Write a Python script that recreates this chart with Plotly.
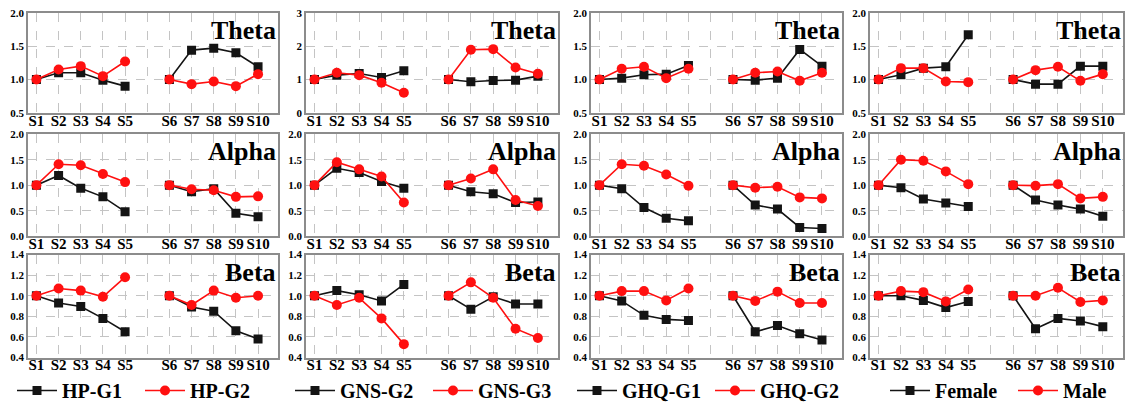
import plotly.graph_objects as go

# Session labels; a blank slot separates the two recording blocks
sessions = ["S1", "S2", "S3", "S4", "S5", "S6", "S7", "S8", "S9", "S10"]
axis_categories = ["S1", "S2", "S3", "S4", "S5", " ", "S6", "S7", "S8", "S9", "S10"]

bands = ["Theta", "Alpha", "Beta"]
group_names = [("HP-G1", "HP-G2"), ("GNS-G2", "GNS-G3"),
               ("GHQ-G1", "GHQ-G2"), ("Female", "Male")]

# Theta band, normalised power
theta_hp_g1 = [1.00, 1.10, 1.10, 0.99, 0.90, 1.00, 1.44, 1.47, 1.40, 1.19]
theta_hp_g2 = [1.00, 1.15, 1.20, 1.05, 1.27, 1.00, 0.93, 0.97, 0.90, 1.08]
theta_gns_g2 = [1.00, 1.13, 1.18, 1.06, 1.26, 1.00, 0.93, 0.97, 0.98, 1.10]
theta_gns_g3 = [1.00, 1.20, 1.13, 0.90, 0.60, 1.00, 1.89, 1.91, 1.36, 1.17]
theta_ghq_g1 = [1.00, 1.02, 1.07, 1.08, 1.21, 1.00, 0.99, 1.02, 1.45, 1.20]
theta_ghq_g2 = [1.00, 1.16, 1.19, 1.02, 1.16, 1.00, 1.10, 1.12, 0.98, 1.10]
theta_female = [1.00, 1.07, 1.17, 1.19, 1.67, 1.00, 0.93, 0.93, 1.20, 1.20]
theta_male = [1.00, 1.17, 1.17, 0.97, 0.96, 1.00, 1.14, 1.19, 0.98, 1.08]

# Alpha band
alpha_hp_g1 = [1.00, 1.19, 0.94, 0.77, 0.48, 1.00, 0.87, 0.93, 0.45, 0.38]
alpha_hp_g2 = [1.00, 1.41, 1.39, 1.22, 1.06, 1.00, 0.92, 0.90, 0.77, 0.78]
alpha_gns_g2 = [1.00, 1.33, 1.25, 1.07, 0.94, 1.00, 0.87, 0.83, 0.66, 0.67]
alpha_gns_g3 = [1.00, 1.45, 1.31, 1.17, 0.66, 1.00, 1.13, 1.31, 0.71, 0.59]
alpha_ghq_g1 = [1.00, 0.93, 0.56, 0.35, 0.30, 1.00, 0.61, 0.53, 0.17, 0.15]
alpha_ghq_g2 = [1.00, 1.41, 1.38, 1.21, 0.99, 1.00, 0.95, 0.97, 0.76, 0.74]
alpha_female = [1.00, 0.95, 0.73, 0.65, 0.58, 1.00, 0.71, 0.61, 0.53, 0.39]
alpha_male = [1.00, 1.50, 1.48, 1.27, 1.02, 1.00, 0.99, 1.02, 0.74, 0.77]

# Beta band
beta_hp_g1 = [1.00, 0.93, 0.895, 0.78, 0.65, 1.00, 0.89, 0.85, 0.66, 0.58]
beta_hp_g2 = [1.00, 1.07, 1.05, 0.99, 1.18, 1.00, 0.91, 1.05, 0.98, 1.00]
beta_gns_g2 = [1.00, 1.05, 1.01, 0.95, 1.11, 1.00, 0.87, 0.99, 0.92, 0.92]
beta_gns_g3 = [1.00, 0.91, 0.98, 0.78, 0.53, 1.00, 1.13, 0.98, 0.68, 0.59]
beta_ghq_g1 = [1.00, 0.95, 0.81, 0.77, 0.76, 1.00, 0.65, 0.71, 0.63, 0.57]
beta_ghq_g2 = [1.00, 1.045, 1.045, 0.955, 1.07, 1.00, 0.95, 1.04, 0.93, 0.93]
beta_female = [1.00, 1.00, 0.955, 0.885, 0.945, 1.00, 0.68, 0.78, 0.755, 0.70]
beta_male = [1.00, 1.045, 1.035, 0.945, 1.06, 1.00, 1.00, 1.077, 0.94, 0.955]

panel_series = [
    [(theta_hp_g1, theta_hp_g2), (theta_gns_g2, theta_gns_g3),
     (theta_ghq_g1, theta_ghq_g2), (theta_female, theta_male)],
    [(alpha_hp_g1, alpha_hp_g2), (alpha_gns_g2, alpha_gns_g3),
     (alpha_ghq_g1, alpha_ghq_g2), (alpha_female, alpha_male)],
    [(beta_hp_g1, beta_hp_g2), (beta_gns_g2, beta_gns_g3),
     (beta_ghq_g1, beta_ghq_g2), (beta_female, beta_male)],
]

# y-axis ranges and tick steps per panel
y_ranges = [
    [(0.5, 2.0, 0.5), (0, 3, 1), (0.5, 2.0, 0.5), (0.5, 2.0, 0.5)],
    [(0.0, 2.0, 0.5)] * 4,
    [(0.4, 1.4, 0.2)] * 4,
]

W, H = 1132, 414
col_px = [(28, 278), (306, 558), (591, 842), (870, 1123)]
row_px = [(7, 110), (132, 237), (256, 362)]

FONT = "Liberation Serif"
BLACK = "#141414"
RED = "#ff1010"
GRID = "#c4c4c4"
FRAME = "#8c8c8c"


def with_gap(vals):
    return list(vals[:5]) + [None] + list(vals[5:])


x_vals = with_gap(sessions)
x_vals[5] = " "

fig = go.Figure()
annotations = []
# one single-entry legend per series so each key can be placed on its own
legend_keys = ["legend"] + [f"legend{i}" for i in range(2, 9)]

for r in range(3):
    for c in range(4):
        k = r * 4 + c + 1
        xa = "x" if k == 1 else f"x{k}"
        ya = "y" if k == 1 else f"y{k}"
        s_black, s_red = panel_series[r][c]
        n_black, n_red = group_names[c]
        fig.add_trace(go.Scatter(
            x=x_vals, y=with_gap(s_black), xaxis=xa, yaxis=ya,
            mode="lines+markers", name=n_black, connectgaps=False,
            line=dict(color=BLACK, width=1.6),
            marker=dict(symbol="square", size=9, color=BLACK),
            legend=legend_keys[2 * c], showlegend=(r == 0)))
        fig.add_trace(go.Scatter(
            x=x_vals, y=with_gap(s_red), xaxis=xa, yaxis=ya,
            mode="lines+markers", name=n_red, connectgaps=False,
            line=dict(color=RED, width=1.6),
            marker=dict(symbol="circle", size=10, color=RED),
            legend=legend_keys[2 * c + 1], showlegend=(r == 0)))

        x0, x1 = col_px[c]
        y0, y1 = row_px[r]
        lo, hi, step = y_ranges[r][c]
        nt = int(round((hi - lo) / step))
        tvals = [lo + i * step for i in range(nt + 1)]
        fmt = "{:.0f}" if step >= 1 else "{:.1f}"
        fig.layout[f"xaxis{'' if k == 1 else k}"] = dict(
            domain=[x0 / W, x1 / W], anchor=ya,
            type="category", categoryorder="array", categoryarray=axis_categories,
            range=[-0.38, 10.9], tickangle=0, ticklabelstandoff=-7,
            showgrid=True, gridcolor=GRID, griddash="dash", gridwidth=1,
            showline=True, linecolor=FRAME, linewidth=1.5, mirror=True,
            ticks="", tickfont=dict(family=FONT, size=15, color="#000", weight="bold"),
            zeroline=False, fixedrange=True)
        fig.layout[f"yaxis{'' if k == 1 else k}"] = dict(
            domain=[1 - y1 / H, 1 - y0 / H], anchor=xa,
            range=[lo, hi], tickvals=tvals, ticktext=[fmt.format(v) for v in tvals],
            showgrid=True, gridcolor=GRID, griddash="dash", gridwidth=1,
            showline=True, linecolor=FRAME, linewidth=1.5, mirror=True,
            ticks="", tickfont=dict(family=FONT, size=11, color="#000", weight="bold"),
            zeroline=False, fixedrange=True)
        annotations.append(dict(
            text=bands[r], xref=f"{xa} domain", yref=f"{ya} domain",
            x=1.0, y=0.99, xanchor="right", yanchor="top", showarrow=False,
            font=dict(family=FONT, size=26, color="#000", weight="bold")))

# left edge of each legend key, px
legend_left = [12, 140, 290, 428, 572, 710, 885, 1013]
legend_common = dict(
    orientation="h", yanchor="middle", y=1 - 396 / H, xanchor="left",
    font=dict(family=FONT, size=20, color="#000", weight="bold"),
    bgcolor="rgba(0,0,0,0)", itemwidth=40, tracegroupgap=0)
legend_layout = {}
for i, key in enumerate(legend_keys):
    legend_layout[key] = dict(legend_common, x=legend_left[i] / W)

fig.update_layout(
    width=W, height=H, margin=dict(l=0, r=0, t=0, b=0),
    paper_bgcolor="white", plot_bgcolor="white",
    annotations=annotations, **legend_layout)

fig.write_html("out.html")
